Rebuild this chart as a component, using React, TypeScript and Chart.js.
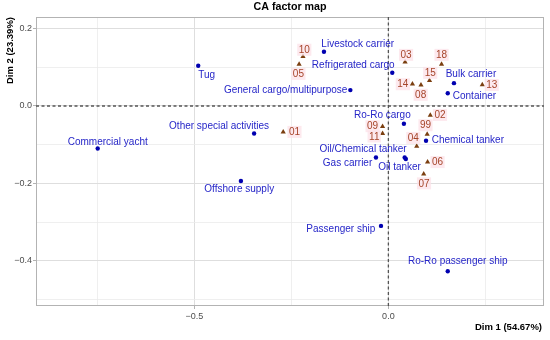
import React, { useEffect, useRef } from "react";
import { Chart, registerables } from "chart.js";
Chart.register(...registerables);

// Column categories (ship types)
const shipTypes = [
  "Tug", "Commercial yacht", "Other special activities", "General cargo/multipurpose",
  "Livestock carrier", "Refrigerated cargo", "Bulk carrier", "Container", "Ro-Ro cargo",
  "Chemical tanker", "Oil/Chemical tanker", "Gas carrier", "Oil tanker", "Offshore supply",
  "Passenger ship", "Ro-Ro passenger ship",
];
const shipDim1 = [-0.49, -0.749, -0.346, -0.098, -0.166, 0.01, 0.169, 0.153, 0.04, 0.097, 0.042, -0.032, 0.045, -0.38, -0.019, 0.153];
const shipDim2 = [0.104, -0.11, -0.071, 0.041, 0.14, 0.086, 0.059, 0.033, -0.046, -0.09, -0.133, -0.133, -0.137, -0.194, -0.31, -0.427];

// Row categories (codes)
const codes = ["10", "05", "03", "18", "15", "14", "08", "13", "02", "09", "11", "99", "04", "06", "07", "01"];
const codeDim1 = [-0.22, -0.23, 0.043, 0.137, 0.106, 0.062, 0.084, 0.242, 0.108, -0.015, -0.015, 0.1, 0.073, 0.101, 0.091, -0.271];
const codeDim2 = [0.128, 0.108, 0.114, 0.108, 0.066, 0.057, 0.054, 0.055, -0.024, -0.053, -0.071, -0.073, -0.104, -0.145, -0.176, -0.067];

// Axis ticks
const xTickValues = [-0.75, -0.5, -0.25, 0, 0.25];
const xTickLabels = ["", "\u22120.5", "", "0.0", ""];
const yTickValues = [-0.5, -0.4, -0.3, -0.2, -0.1, 0, 0.1, 0.2];
const yTickLabels = ["", "\u22120.4", "", "\u22120.2", "", "0.0", "", "0.2"];

const titleText = "CA factor map";
const xTitle = "Dim 1 (54.67%)";
const yTitle = "Dim 2 (23.39%)";

// Label placement (repelled text offsets in px, relative to the mark)
const shipLabelPlacement: [number, number, CanvasTextAlign][] = [
  [0, 9.5, "left"], [10, -6.6, "center"], [-35, -7.6, "center"], [-3, 0, "right"],
  [33.8, -8, "center"], [-39, -7.7, "center"], [17, -9.3, "center"], [5, 2.4, "left"],
  [-21.5, -8.7, "center"], [5.7, -1.4, "left"], [-41.6, -8.4, "center"], [-3.7, 5.3, "right"],
  [-6.3, 8, "center"], [-1.7, 7.3, "center"], [-5.7, 2.7, "right"], [10, -10.3, "center"],
];
const codeLabelPlacement: [number, number][] = [
  [1.3, -6.7], [-0.7, 9.7], [1, -7], [0, -9.3], [0.7, -7.6], [-9.6, 0.3], [-0.3, 9.7], [9.4, 0.3],
  [9.7, -0.3], [-10, -0.3], [-8.3, 3], [-1.7, -9], [-3.4, -8.3], [10, 0], [0.3, 9.3], [11.3, 0],
];

const FONT = "'Liberation Sans', Arial, Helvetica, sans-serif";

const decorPlugin = {
  id: "decor",
  beforeDatasetsDraw(chart: any) {
    const { ctx, chartArea: a, scales } = chart;
    const x0 = scales.x.getPixelForValue(0);
    const y0 = scales.y.getPixelForValue(0);
    ctx.save();
    ctx.strokeStyle = "#b3b3b3";
    ctx.lineWidth = 1;
    ctx.strokeRect(a.left + 0.5, a.top + 0.5, a.right - a.left - 1, a.bottom - a.top - 1);
    ctx.strokeStyle = "#555555";
    ctx.lineWidth = 1.3;
    ctx.setLineDash([3, 2.5]);
    ctx.beginPath();
    ctx.moveTo(x0, a.top);
    ctx.lineTo(x0, a.bottom);
    ctx.moveTo(a.left, y0);
    ctx.lineTo(a.right, y0);
    ctx.stroke();
    ctx.restore();
  },
  afterDatasetsDraw(chart: any) {
    const { ctx, chartArea: a, scales } = chart;
    ctx.save();
    ctx.font = `10px ${FONT}`;
    ctx.textBaseline = "middle";
    // code labels with pale boxes
    codes.forEach((c, i) => {
      const px = scales.x.getPixelForValue(codeDim1[i]) + codeLabelPlacement[i][0];
      const py = scales.y.getPixelForValue(codeDim2[i]) + codeLabelPlacement[i][1];
      const w = ctx.measureText(c).width;
      ctx.fillStyle = "rgba(252,225,232,0.75)";
      ctx.fillRect(px - w / 2 - 1.5, py - 6, w + 3, 12);
      ctx.fillStyle = "#A6452A";
      ctx.textAlign = "center";
      ctx.fillText(c, px, py + 0.5);
    });
    shipTypes.forEach((s, i) => {
      const [dx, dy, al] = shipLabelPlacement[i];
      const px = scales.x.getPixelForValue(shipDim1[i]) + dx;
      const py = scales.y.getPixelForValue(shipDim2[i]) + dy;
      ctx.fillStyle = "#2626C8";
      ctx.textAlign = al;
      ctx.fillText(s, px, py + 0.5);
    });
    ctx.restore();
  },
  afterDraw(chart: any) {
    const { ctx, chartArea: a } = chart;
    ctx.save();
    ctx.fillStyle = "#000000";
    ctx.textBaseline = "middle";
    ctx.font = `bold 10.7px ${FONT}`;
    ctx.textAlign = "center";
    ctx.fillText(titleText, (a.left + a.right) / 2, 7.5);
    ctx.font = `bold 9.5px ${FONT}`;
    ctx.textAlign = "right";
    ctx.fillText(xTitle, a.right - 2, 327.5);
    ctx.translate(10, a.top);
    ctx.rotate(-Math.PI / 2);
    ctx.textAlign = "right";
    ctx.fillText(yTitle, 0, 0);
    ctx.restore();
  },
};

export default function App() {
  const ref = useRef<HTMLCanvasElement | null>(null);
  useEffect(() => {
    document.body.style.margin = "0";
    const canvas = ref.current;
    if (!canvas) return;
    const chart = new Chart(canvas, {
      type: "scatter",
      data: {
        datasets: [
          {
            label: "ships",
            data: shipTypes.map((_, i) => ({ x: shipDim1[i], y: shipDim2[i] })),
            pointStyle: "circle",
            pointRadius: 2.2,
            backgroundColor: "#0000B0",
            borderColor: "#0000B0",
            borderWidth: 0,
          },
          {
            label: "codes",
            data: codes.map((_, i) => ({ x: codeDim1[i], y: codeDim2[i] })),
            pointStyle: "triangle",
            pointRadius: 3,
            backgroundColor: "#7B3F10",
            borderColor: "#7B3F10",
            borderWidth: 0,
          },
        ],
      },
      options: {
        responsive: false,
        animation: false,
        events: [],
        layout: { padding: { top: 17, right: 6, left: 0, bottom: 0 } },
        plugins: { legend: { display: false }, tooltip: { enabled: false }, title: { display: false } },
        scales: {
          x: {
            type: "linear",
            min: -0.908,
            max: 0.401,
            afterBuildTicks: (s: any) => { s.ticks = xTickValues.map((v) => ({ value: v })); },
            afterFit: (s: any) => { s.height = 34; },
            border: { display: false },
            grid: {
              color: (c: any) => (xTickLabels[c.index] ? "#dedede" : "#ebebeb"),
              lineWidth: (c: any) => (xTickLabels[c.index] ? 1 : 0.8),
              tickColor: (c: any) => (xTickLabels[c.index] ? "#b3b3b3" : "rgba(0,0,0,0)"),
              tickLength: 3,
            },
            ticks: {
              autoSkip: false,
              maxRotation: 0,
              padding: 2,
              color: "#4d4d4d",
              font: { size: 9, family: FONT },
              callback: (_v: any, i: number) => xTickLabels[i],
            },
          },
          y: {
            type: "linear",
            min: -0.517,
            max: 0.23,
            afterBuildTicks: (s: any) => { s.ticks = yTickValues.map((v) => ({ value: v })); },
            afterFit: (s: any) => { s.width = 36; },
            border: { display: false },
            grid: {
              color: (c: any) => (yTickLabels[c.index] ? "#dedede" : "#ebebeb"),
              lineWidth: (c: any) => (yTickLabels[c.index] ? 1 : 0.8),
              tickColor: (c: any) => (yTickLabels[c.index] ? "#b3b3b3" : "rgba(0,0,0,0)"),
              tickLength: 3,
            },
            ticks: {
              autoSkip: false,
              padding: 1,
              color: "#4d4d4d",
              font: { size: 9, family: FONT },
              callback: (_v: any, i: number) => yTickLabels[i],
            },
          },
        },
      },
      plugins: [decorPlugin],
    } as any);
    return () => chart.destroy();
  }, []);
  return (
    <div style={{ width: 550, height: 340 }}>
      <canvas ref={ref} width={550} height={340} style={{ display: "block" }} />
    </div>
  );
}
